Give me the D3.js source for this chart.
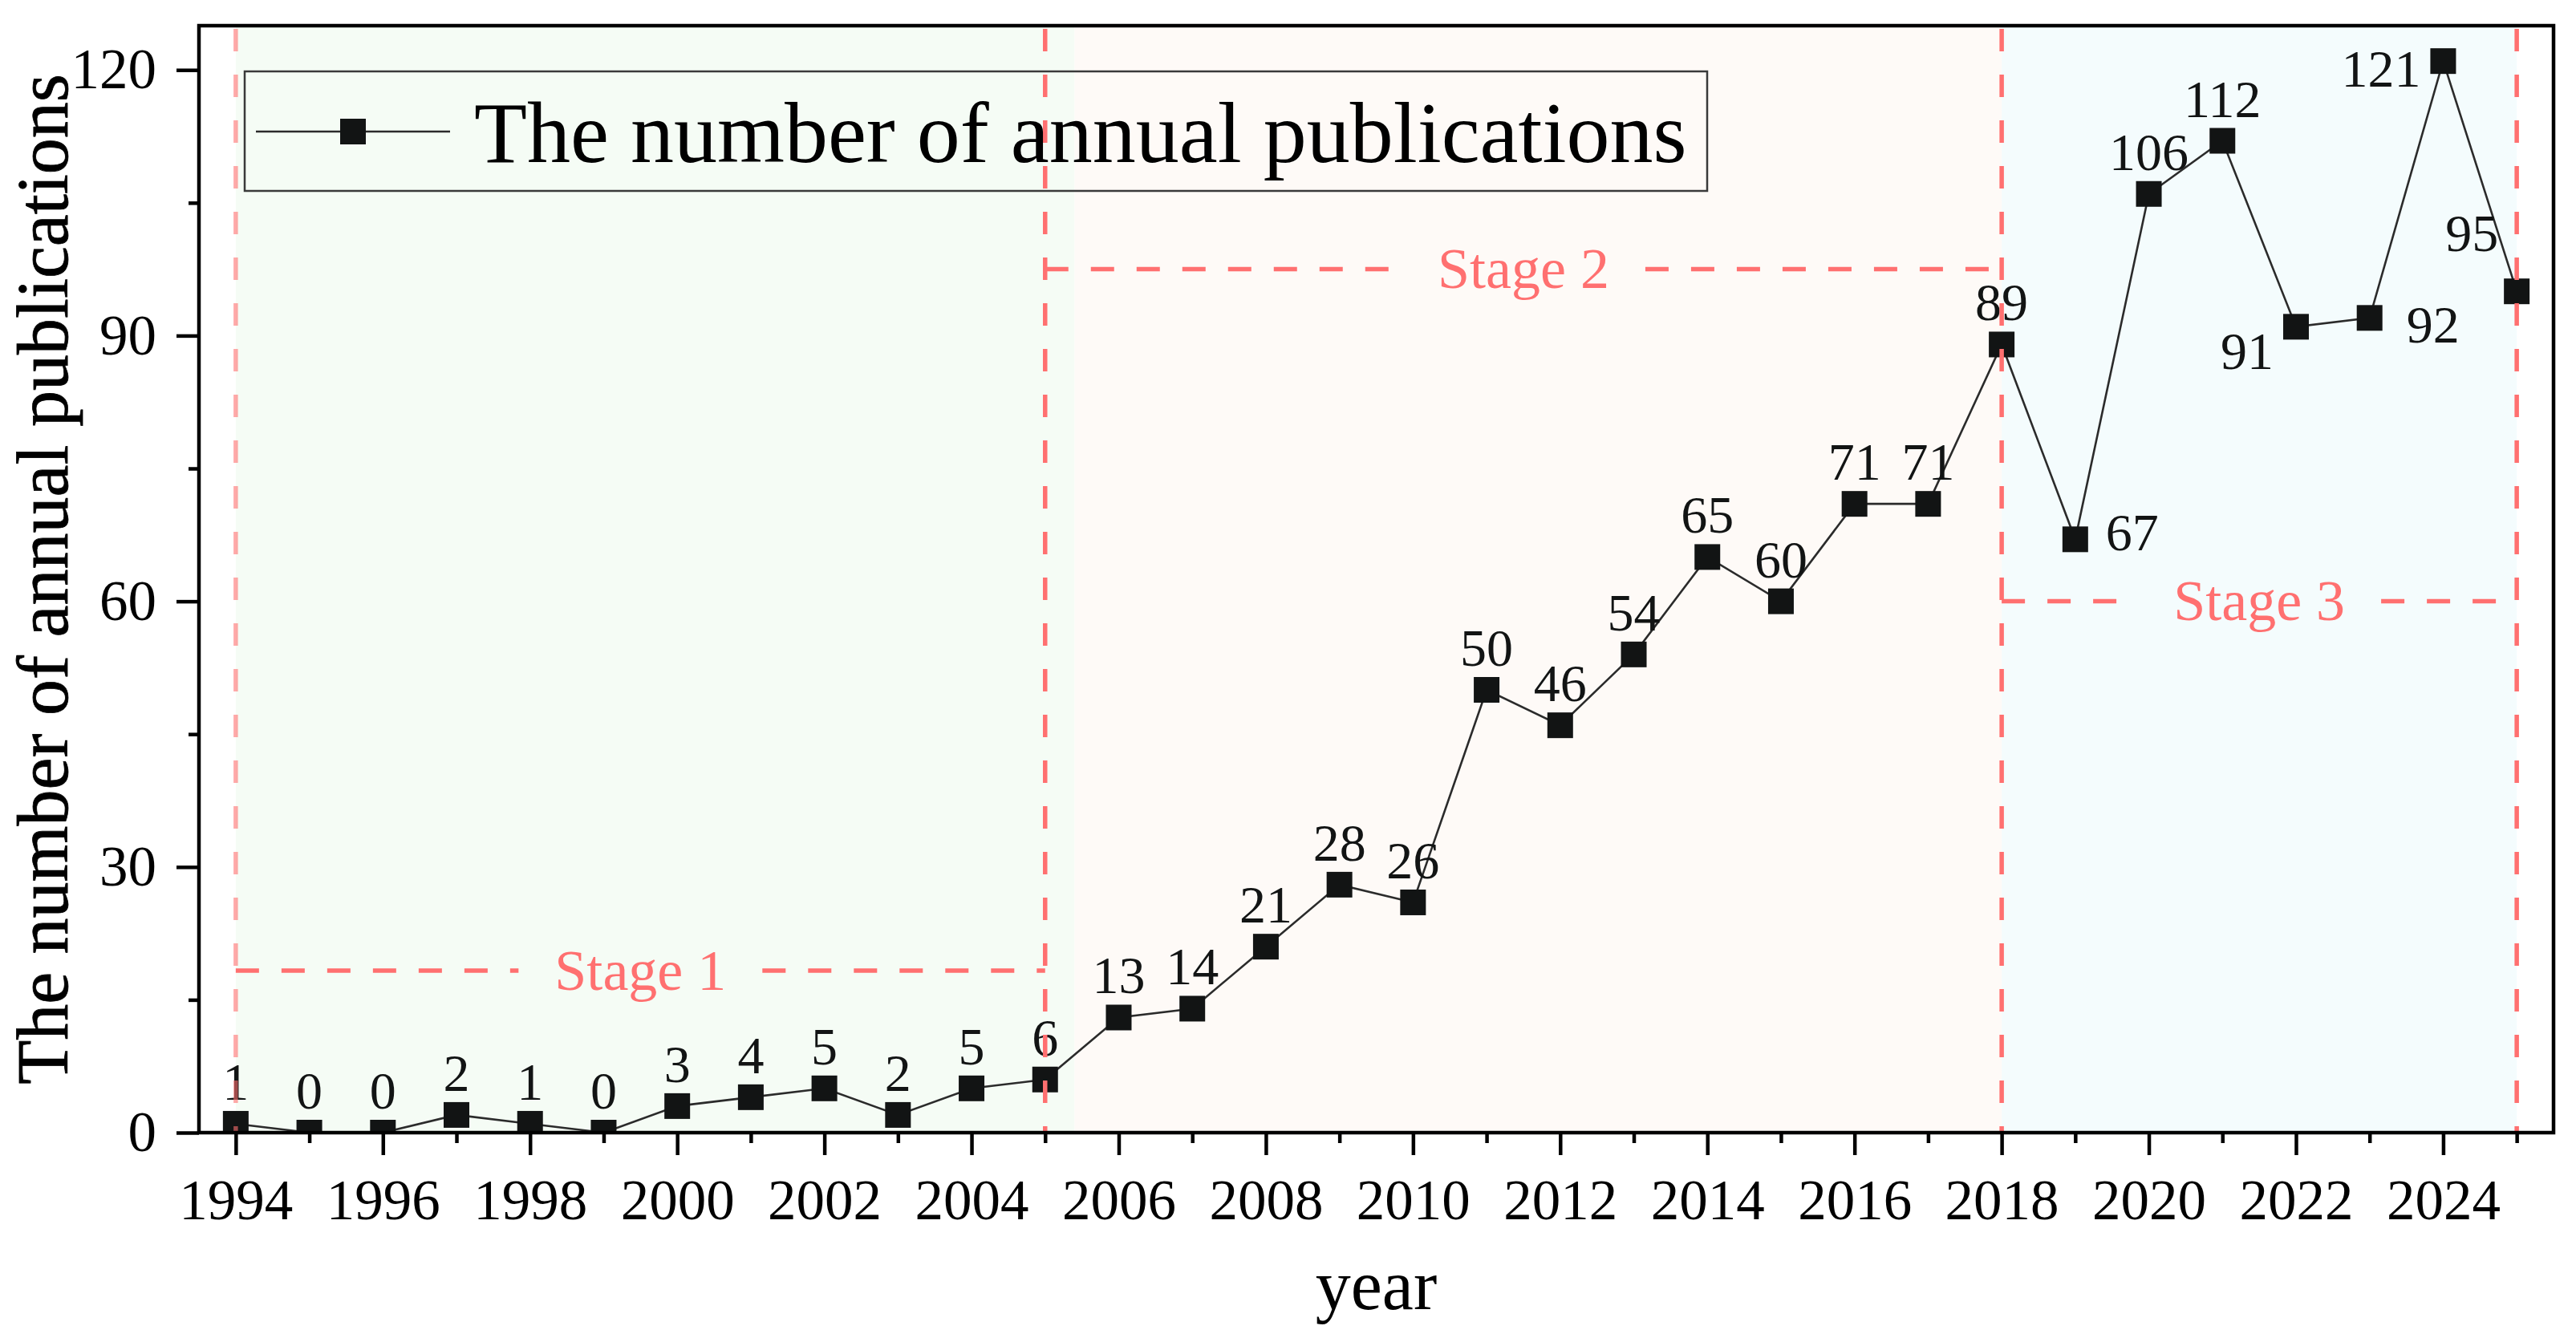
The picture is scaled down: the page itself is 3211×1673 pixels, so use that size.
<!DOCTYPE html>
<html>
<head>
<meta charset="utf-8">
<script src="https://cdn.jsdelivr.net/npm/d3@7"></script>
<style>
  body { margin: 0; background: #fff; }
  svg { display: block; }
  text { font-family: "Liberation Serif", "Times New Roman", serif; }
</style>
</head>
<body>
<svg id="chart"></svg>
<script>
// ---------------------------------------------------------------------------
// Data
// ---------------------------------------------------------------------------
const years  = [1994, 1995, 1996, 1997, 1998, 1999, 2000, 2001, 2002, 2003, 2004,
                2005, 2006, 2007, 2008, 2009, 2010, 2011, 2012, 2013, 2014, 2015,
                2016, 2017, 2018, 2019, 2020, 2021, 2022, 2023, 2024, 2025];
const counts = [1, 0, 0, 2, 1, 0, 3, 4, 5, 2, 5,
                6, 13, 14, 21, 28, 26, 50, 46, 54, 65, 60,
                71, 71, 89, 67, 106, 112, 91, 92, 121, 95];

const xTickYears = [1994, 1996, 1998, 2000, 2002, 2004, 2006, 2008, 2010,
                    2012, 2014, 2016, 2018, 2020, 2022, 2024];
const yTicks      = [0, 30, 60, 90, 120];
const yMinorTicks = [15, 45, 75, 105];

const stageBounds = [1994, 2005, 2018, 2025];       // vertical dashed lines
const bgBounds    = [1994, 2005.4, 2018, 2025];     // shaded stage backgrounds
const stageNames  = ['Stage 1', 'Stage 2', 'Stage 3'];
const stageLevels = [18.3, 97.5, 60];
const stageFills  = ['#f5fcf5', '#fefaf7', '#f4fcfd'];

const legendLabel = 'The number of annual publications';
const xTitle = 'year';
const yTitle = 'The number of annual publications';

// label placement for the crowded points at the right end
const labelPlace = { 2019: 'right', 2022: 'belowLeft', 2023: 'belowRight',
                     2024: 'left', 2025: 'aboveLeft' };

// ---------------------------------------------------------------------------
// Config
// ---------------------------------------------------------------------------
const W = 3211, H = 1673;
const M = { left: 248, right: 3183, top: 32, bottom: 1412 };
const RED = '#ff7070';
const INK = '#121414';

const svg = d3.select('#chart').attr('width', W).attr('height', H);
svg.append('rect').attr('width', W).attr('height', H).attr('fill', '#fff');

const x = d3.scaleLinear().domain([1993.5, 2025.5]).range([M.left, M.right]);
const y = d3.scaleLinear().domain([0, 125]).range([M.bottom, M.top]);

svg.append('clipPath').attr('id', 'plot-clip')
  .append('rect')
  .attr('x', M.left).attr('y', M.top)
  .attr('width', M.right - M.left).attr('height', M.bottom - M.top);

// Stage backgrounds
svg.append('g').selectAll('rect')
  .data(stageFills)
  .join('rect')
  .attr('x', (d, i) => x(bgBounds[i]))
  .attr('width', (d, i) => x(bgBounds[i + 1]) - x(bgBounds[i]))
  .attr('y', M.top)
  .attr('height', M.bottom - M.top)
  .attr('fill', d => d);

// Stage labels + horizontal dashed lines (broken around the label)
const stageG = svg.append('g');
stageNames.forEach((name, i) => {
  const x0 = x(stageBounds[i]), x1 = x(stageBounds[i + 1]);
  const cx = (x0 + x1) / 2, cy = y(stageLevels[i]);
  const t = stageG.append('text')
    .attr('x', cx).attr('y', cy).attr('dy', '0.33em')
    .attr('text-anchor', 'middle')
    .attr('font-size', 72)
    .attr('fill', RED)
    .text(name);
  const half = t.node().getComputedTextLength() / 2 + 45;
  [[x0, cx - half], [cx + half, x1]].forEach(([a, b]) => {
    stageG.append('line')
      .attr('x1', a).attr('x2', b).attr('y1', cy).attr('y2', cy)
      .attr('stroke', RED).attr('stroke-width', 5.5)
      .attr('stroke-dasharray', '29,28');
  });
});

// Data line
const line = d3.line().x((d, i) => x(years[i])).y(d => y(d));
svg.append('path')
  .datum(counts)
  .attr('d', line)
  .attr('fill', 'none')
  .attr('stroke', '#2b2b2b')
  .attr('stroke-width', 2.6);

// Markers
const MS = 32;
svg.append('g').attr('clip-path', 'url(#plot-clip)')
  .selectAll('rect')
  .data(counts)
  .join('rect')
  .attr('x', (d, i) => x(years[i]) - MS / 2)
  .attr('y', d => y(d) - MS / 2)
  .attr('width', MS).attr('height', MS)
  .attr('fill', INK);

// Value labels
function labelAttrs(yr) {
  switch (labelPlace[yr]) {
    case 'right':      return { dx: 38,  dy: 14,  anchor: 'start' };
    case 'belowLeft':  return { dx: -28, dy: 53,  anchor: 'end' };
    case 'belowRight': return { dx: 46,  dy: 31,  anchor: 'start' };
    case 'left':       return { dx: -28, dy: 32,  anchor: 'end' };
    case 'aboveLeft':  return { dx: -23, dy: -50, anchor: 'end' };
    default:           return { dx: 0,   dy: -30, anchor: 'middle' };
  }
}
svg.append('g').selectAll('text')
  .data(counts)
  .join('text')
  .each(function (d, i) {
    const a = labelAttrs(years[i]);
    d3.select(this)
      .attr('x', x(years[i]) + a.dx)
      .attr('y', y(d) + a.dy)
      .attr('text-anchor', a.anchor);
  })
  .attr('font-size', 66)
  .attr('fill', INK)
  .text(d => d);

// Vertical dashed stage boundaries
svg.append('g').selectAll('line')
  .data(stageBounds)
  .join('line')
  .attr('x1', d => x(d)).attr('x2', d => x(d))
  .attr('y1', M.top + 4).attr('y2', M.bottom)
  .attr('stroke', RED)
  .attr('stroke-opacity', (d, i) => i === 0 ? 0.6 : 1)
  .attr('stroke-width', 5.5)
  .attr('stroke-dasharray', '28,29');

// ---------------------------------------------------------------------------
// Axes
// ---------------------------------------------------------------------------
svg.append('g')
  .attr('transform', `translate(0,${M.bottom})`)
  .call(d3.axisBottom(x).tickValues(xTickYears).tickSize(28).tickPadding(30)
    .tickFormat(d3.format('d')));
svg.append('g')
  .attr('transform', `translate(0,${M.bottom})`)
  .call(d3.axisBottom(x).tickValues(years.filter(v => v % 2 === 1)).tickSize(13)
    .tickFormat(''));

svg.append('g')
  .attr('transform', `translate(${M.left},0)`)
  .call(d3.axisLeft(y).tickValues(yTicks).tickSize(28).tickPadding(25));
svg.append('g')
  .attr('transform', `translate(${M.left},0)`)
  .call(d3.axisLeft(y).tickValues(yMinorTicks).tickSize(13).tickFormat(''));

svg.selectAll('.domain').remove();
svg.selectAll('.tick line').attr('stroke', '#000').attr('stroke-width', 4.5);
svg.selectAll('.tick text')
  .attr('font-family', '"Liberation Serif", "Times New Roman", serif')
  .attr('font-size', 71)
  .attr('fill', '#000');

// Plot frame
svg.append('rect')
  .attr('x', M.left).attr('y', M.top)
  .attr('width', M.right - M.left).attr('height', M.bottom - M.top)
  .attr('fill', 'none')
  .attr('stroke', '#000')
  .attr('stroke-width', 4.5);

// Axis titles
svg.append('text')
  .attr('x', (M.left + M.right) / 2).attr('y', 1632)
  .attr('text-anchor', 'middle')
  .attr('font-size', 88)
  .text(xTitle);

svg.append('text')
  .attr('transform', `translate(84,${(M.top + M.bottom) / 2}) rotate(-90)`)
  .attr('text-anchor', 'middle')
  .attr('font-size', 90)
  .attr('stroke', '#000').attr('stroke-width', 0.8)
  .text(yTitle);

// ---------------------------------------------------------------------------
// Legend
// ---------------------------------------------------------------------------
const lg = svg.append('g');
lg.append('rect')
  .attr('x', 305).attr('y', 89).attr('width', 1823).attr('height', 149)
  .attr('fill', 'none').attr('stroke', '#3a3a3a').attr('stroke-width', 2.5);
lg.append('line')
  .attr('x1', 319).attr('x2', 561).attr('y1', 164).attr('y2', 164)
  .attr('stroke', '#2b2b2b').attr('stroke-width', 2.6);
lg.append('rect')
  .attr('x', 440 - MS / 2).attr('y', 164 - MS / 2).attr('width', MS).attr('height', MS)
  .attr('fill', INK);
lg.append('text')
  .attr('x', 591).attr('y', 202)
  .attr('font-size', 108)
  .attr('fill', '#000')
  .text(legendLabel);
</script>
</body>
</html>
